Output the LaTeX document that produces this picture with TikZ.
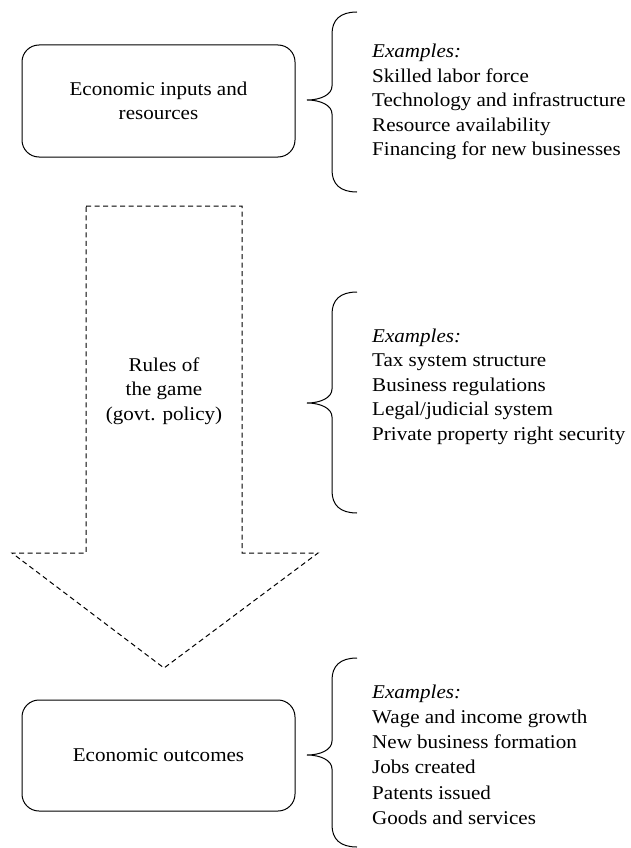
\documentclass[tikz,border=0pt]{standalone}
\usepackage{fontspec}
\setmainfont{Liberation Serif}[FakeStretch=1.08]
\begin{document}
\begin{tikzpicture}[x=1pt,y=-1pt,
  txt/.style={font=\fontsize{19.5}{24.5}\selectfont, inner sep=0pt},
  ebox/.style={draw, line width=1pt, rounded corners=17pt, minimum width=273pt, minimum height=112pt, align=center, inner sep=0pt, font=\fontsize{19.5}{24.5}\selectfont},
  bracepath/.style={draw, line width=1pt},
  dasharrow/.style={draw, line width=1pt, dash pattern=on 5pt off 3.5pt}]
\useasboundingbox (0,0) rectangle (630,848);
% boxes
\node[ebox] (inputs) at (158.5,101) {Economic inputs and\\resources};
\node[ebox, minimum height=111pt] (outcomes) at (158.5,755.5) {Economic outcomes};
% dashed arrow
\coordinate (a1) at (86,206);
\coordinate (a2) at (242,206);
\coordinate (a3) at (242,553);
\coordinate (a4) at (318,553);
\coordinate (a5) at (164,668);
\coordinate (a6) at (12,553);
\coordinate (a7) at (86,553);
\path[dasharrow] (a1) -- (a2) -- (a3) -- (a4) -- (a5) -- (a6) -- (a7) -- cycle;
\node[txt, anchor=base] (rules) at (164,371) {\begin{tabular}[t]{@{}c@{}}Rules of\\the game\\(govt. policy)\end{tabular}};
% braces
\newcommand{\mybrace}[3]{%
  \path[bracepath] (357,#1) .. controls (340,#1) and (332,#1+8) .. (332,#1+22)
    -- (332,#2-14) .. controls (332,#2-5) and (320,#2) .. (307,#2)
    .. controls (320,#2) and (332,#2+5) .. (332,#2+14)
    -- (332,#3-22) .. controls (332,#3-8) and (340,#3) .. (357,#3);}
\mybrace{12}{100}{192}
\mybrace{292}{403}{513}
\mybrace{658}{755}{847}
% example lists
\node[txt, anchor=base west] (ex1) at (372,58) {\begin{tabular}[t]{@{}l@{}}\textit{Examples:}\\Skilled labor force\\Technology and infrastructure\\Resource availability\\Financing for new businesses\end{tabular}};
\node[txt, anchor=base west] (ex2) at (372,342) {\begin{tabular}[t]{@{}l@{}}\textit{Examples:}\\Tax system structure\\Business regulations\\Legal/judicial system\\Private property right security\end{tabular}};
\node[txt, anchor=base west, font=\fontsize{19.5}{25.3}\selectfont] (ex3) at (372,698) {\begin{tabular}[t]{@{}l@{}}\textit{Examples:}\\Wage and income growth\\New business formation\\Jobs created\\Patents issued\\Goods and services\end{tabular}};
\end{tikzpicture}
\end{document}
